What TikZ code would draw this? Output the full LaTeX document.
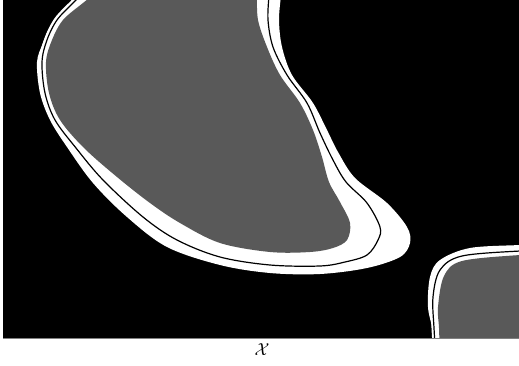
\documentclass[tikz,border=0pt]{standalone}
\begin{document}
\begin{tikzpicture}[x=1pt,y=-1pt]
\definecolor{blobgray}{RGB}{89,89,89}
\tikzset{
  contour/.style={draw=black,line width=1.2pt},
  halo/.style={draw=white,line width=6pt},
  blobtension/.style={smooth,tension=0.55}
}
\useasboundingbox (0,0) rectangle (519,366);
\fill[black] (3,0) rectangle (519,338);
\begin{scope}
\clip (3,0) rectangle (519,338);
% big blob: outer white band
\fill[white] plot[blobtension] coordinates {(281,-4) (279,20) (282,47) (292,75) (313,103) (327,130) (338,152) (355,178) (387,203) (407,227) (410,243) (400,257) (367,268) (320,274) (270,273) (220,265) (167,247) (127,217) (93,183) (67,147) (50,120) (40,93) (37,62) (43,43) (50,27) (63,10) (80,-4)} -- (80,-30) -- (281,-30) -- cycle;
% gray interior
\fill[blobgray] plot[blobtension] coordinates {(257,-4) (258,20) (267,47) (280,75) (300,103) (313,130) (322,157) (329,182) (340,202) (350,223) (347,240) (333,248) (310,252) (270,252) (220,243) (180,223) (150,203) (117,177) (84,148) (60,120) (49,93) (46,62) (52,40) (63,20) (83,3) (92,-4)} -- (92,-30) -- (257,-30) -- cycle;
% contour line with white margin
\path[halo] plot[blobtension] coordinates {(269,-4) (268,20) (273,47) (287,75) (307,103) (320,133) (333,160) (346,182) (367,203) (380,227) (378,240) (367,255) (345,262) (320,266) (270,265) (220,257) (177,240) (143,217) (103,180) (76,148) (55,120) (45,93) (42,62) (47,40) (57,20) (73,3) (80,-4)};
\draw[contour] plot[blobtension] coordinates {(269,-4) (268,20) (273,47) (287,75) (307,103) (320,133) (333,160) (346,182) (367,203) (380,227) (378,240) (367,255) (345,262) (320,266) (270,265) (220,257) (177,240) (143,217) (103,180) (76,148) (55,120) (45,93) (42,62) (47,40) (57,20) (73,3) (80,-4)};
% small blob
\fill[white] plot[blobtension] coordinates {(540,244) (520,245) (470,248) (440,260) (430,277) (428,307) (433,332) (435,360)} -- (540,360) -- cycle;
\fill[blobgray] plot[blobtension] coordinates {(540,255) (520,255) (462,261) (444,276) (438,307) (439,328) (440,360)} -- (540,360) -- cycle;
\path[halo,line width=5pt] plot[blobtension] coordinates {(540,251) (520,251) (462,256) (440,270) (433,297) (434,328) (436,360)};
\draw[contour] plot[blobtension] coordinates {(540,251) (520,251) (462,256) (440,270) (433,297) (434,328) (436,360)};
\end{scope}
\draw[gray,line width=0.6pt] (3,338) -- (519,338);
\node (xlabel) at (262,350) {\fontsize{17}{20}\selectfont$\mathcal{X}$};
\end{tikzpicture}
\end{document}
